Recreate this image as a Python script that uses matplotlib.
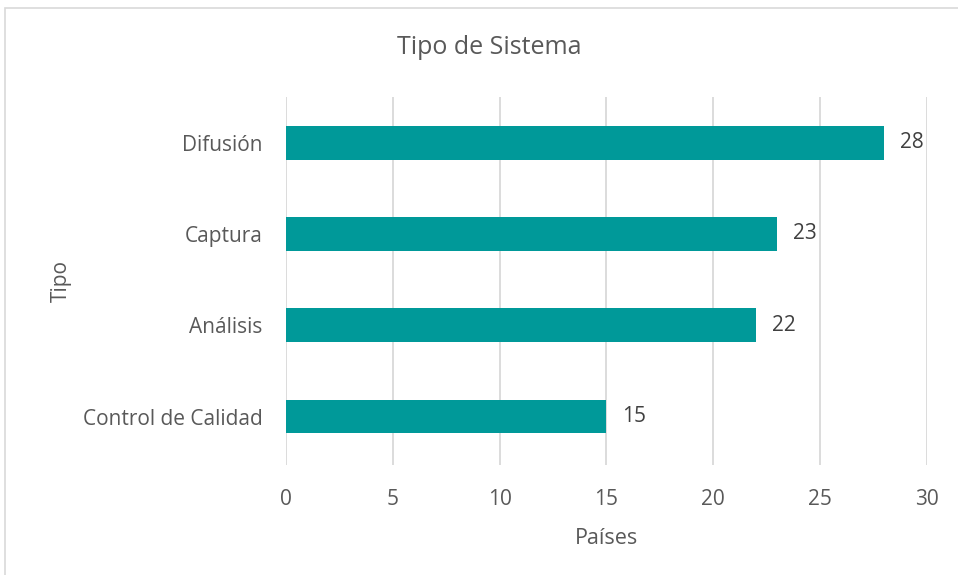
import matplotlib.pyplot as plt
from matplotlib.patches import Rectangle

categorias = ["Control de Calidad", "Análisis", "Captura", "Difusión"]
paises = [15, 22, 23, 28]
ticks_x = [0, 5, 10, 15, 20, 25, 30]

plt.rcParams['font.family'] = ['Open Sans', 'DejaVu Sans']

fig = plt.figure(figsize=(9.58, 5.75), dpi=100)
ax = fig.add_axes([0.2985, 0.1913, 0.6691, 0.64])

# borde del gráfico
fig.patches.append(Rectangle((5 / 958, -0.01), 1.0, 1 - 8 / 575 + 0.01,
                             transform=fig.transFigure, fill=False,
                             edgecolor='#D9D9D9', linewidth=1.2))

y = range(len(categorias))
ax.barh(y, paises, height=0.37, color='#009999', zorder=3)
for yi, v in zip(y, paises):
    ax.text(v + 0.75, yi, str(v), va='center', ha='left', fontsize=15, color='#404040')

ax.set_xlim(0, 30)
ax.set_ylim(-0.53, 3.5)
ax.set_xticks(ticks_x)
ax.set_yticks(list(y))
ax.set_yticklabels(categorias)
ax.tick_params(axis='both', length=0, labelsize=15, labelcolor='#595959')
ax.tick_params(axis='x', pad=17)
ax.tick_params(axis='y', pad=17)
ax.grid(axis='x', color='#D9D9D9', linewidth=1.3, zorder=0)
for s in ax.spines.values():
    s.set_visible(False)

ax.set_xlabel("Países", fontsize=15.5, color='#595959', labelpad=13)
ax.set_ylabel("Tipo", fontsize=15, color='#595959', labelpad=8)
fig.text(489 / 958, 1 - 48 / 575, "Tipo de Sistema", ha='center', va='center',
         fontsize=18, color='#595959')

plt.savefig('out.png', dpi=100)
